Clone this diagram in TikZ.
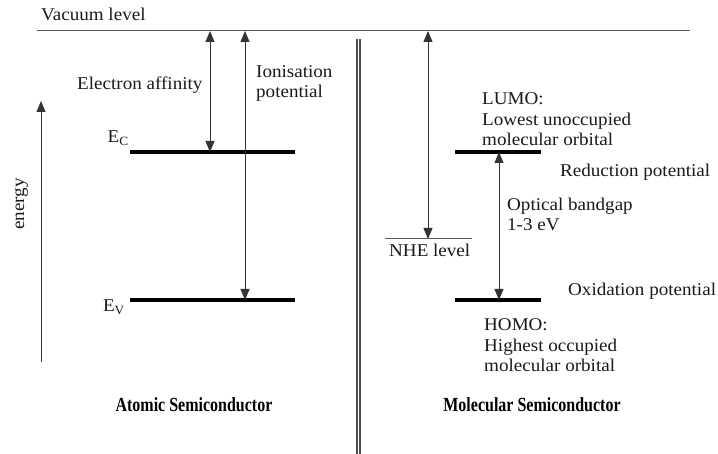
\documentclass[tikz,border=0pt]{standalone}
\usepackage{fontspec}
\setmainfont{Liberation Serif}[FakeStretch=1.06]
\newfontfamily\titlefont{Liberation Serif}[FakeStretch=0.8]
\usetikzlibrary{arrows.meta}
\begin{document}
\begin{tikzpicture}[x=1pt,y=-1pt,
  lbl/.style={inner sep=0pt,font=\fontsize{18}{20.5}\selectfont,align=left,text=black!90},
  ttl/.style={inner sep=0pt,font=\titlefont\bfseries\fontsize{20}{22}\selectfont},
  thinline/.style={draw=black!65,line width=1pt},
  bar/.style={draw=black,line width=3.6pt},
  arr/.style={draw=black!80,line width=0.9pt,{Triangle[length=11pt,width=9pt]}-{Triangle[length=11pt,width=9pt]}},
  uparr/.style={draw=black!80,line width=0.9pt,-{Triangle[length=11pt,width=9pt]}},
  sep/.style={draw=black!70,line width=1.8pt}]
\useasboundingbox (0,0) rectangle (718,454);
% vacuum level
\coordinate (vacL) at (37,31);
\coordinate (vacR) at (690,31);
\draw[thinline] (vacL) -- (vacR);
\node[lbl,anchor=base west] (vac) at (41,21) {Vacuum level};
% separator
\coordinate (s1t) at (356.8,39); \coordinate (s1b) at (356.8,454);
\coordinate (s2t) at (360.2,39); \coordinate (s2b) at (360.2,454);
\draw[sep] (s1t) -- (s1b);
\draw[sep] (s2t) -- (s2b);
% energy axis
\coordinate (enB) at (41,362);
\coordinate (enT) at (41,101);
\draw[uparr] (enB) -- (enT);
\node[lbl,rotate=90,anchor=base] (energy) at (24,204) {energy};
% atomic levels
\coordinate (ecL) at (130,152); \coordinate (ecR) at (295,152);
\coordinate (evL) at (130,300); \coordinate (evR) at (295,300);
\draw[bar] (ecL) -- (ecR);
\draw[bar] (evL) -- (evR);
\node[lbl,anchor=base east] (ec) at (129,143) {E\textsubscript{C}};
\node[lbl,anchor=base east] (ev) at (125,312) {E\textsubscript{V}};
% electron affinity
\coordinate (eaT) at (210,31); \coordinate (eaB) at (210,152);
\draw[arr] (eaT) -- (eaB);
\node[lbl,anchor=base west] (ea) at (77,90) {Electron affinity};
% ionisation potential
\coordinate (ipT) at (245,31); \coordinate (ipB) at (245,300);
\draw[arr] (ipT) -- (ipB);
\node[lbl,anchor=base west] (ip) at (256,98) {Ionisation\\potential};
% molecular levels
\coordinate (luL) at (455,152); \coordinate (luR) at (541,152);
\coordinate (hoL) at (455,300); \coordinate (hoR) at (541,300);
\draw[bar] (luL) -- (luR);
\draw[bar] (hoL) -- (hoR);
\coordinate (gapT) at (499,152); \coordinate (gapB) at (499,300);
\draw[arr] (gapT) -- (gapB);
% NHE
\coordinate (nheL) at (385,239); \coordinate (nheR) at (472,239);
\draw[thinline] (nheL) -- (nheR);
\coordinate (nhT) at (428,31); \coordinate (nhB) at (428,239);
\draw[arr] (nhT) -- (nhB);
\node[lbl,anchor=base west] (nhe) at (389,257) {NHE level};
% labels
\node[lbl,anchor=base west] (lumo) at (482,146) {LUMO:\\Lowest unoccupied\\molecular orbital};
\node[lbl,anchor=base west] (red) at (560,177) {Reduction potential};
\node[lbl,anchor=base west] (opt) at (507,231) {Optical bandgap\\1-3 eV};
\node[lbl,anchor=base west] (ox) at (568,296) {Oxidation potential};
\node[lbl,anchor=base west] (homo) at (484,372) {HOMO:\\Highest occupied\\molecular orbital};
% titles
\node[ttl,anchor=base] (atomic) at (194,412) {Atomic Semiconductor};
\node[ttl,anchor=base] (molec) at (532,412) {Molecular Semiconductor};
\end{tikzpicture}
\end{document}
